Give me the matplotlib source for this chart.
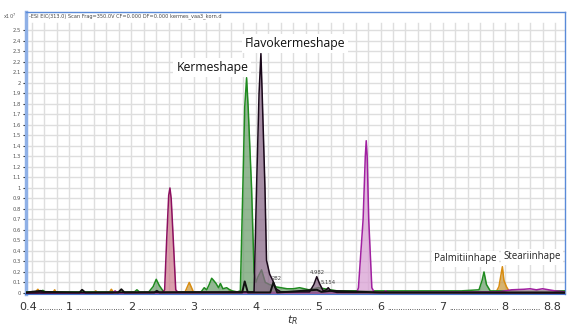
import matplotlib
matplotlib.use("Agg")
import matplotlib.pyplot as plt
import numpy as np

# ---------------- data ----------------
x_ticks = [0.4, 1, 2, 3, 4, 5, 6, 7, 8, 8.8]
x_tick_labels = ["0.4", "1", "2", "3", "4", "5", "6", "7", "8", "8.8"]
y_ticks = [round(0.1 * i, 1) for i in range(26)]

orange_t = [0.31, 0.45, 0.50, 0.55, 0.74, 0.77, 0.80, 1.40, 1.43, 1.46, 1.64, 1.68, 1.72,
            2.86, 2.93, 3.00, 3.55, 3.58, 3.62, 3.75, 3.77, 3.80, 7.85, 7.90, 7.955, 7.98,
            8.02, 8.06, 8.96]
orange_y = [0.0, 0.0, 0.035, 0.0, 0.0, 0.03, 0.0, 0.0, 0.02, 0.0, 0.0, 0.035, 0.0,
            0.005, 0.10, 0.005, 0.005, 0.03, 0.005, 0.005, 0.025, 0.005, 0.005, 0.06, 0.25, 0.12,
            0.06, 0.02, 0.01]

green_t = [0.31, 0.55, 0.58, 0.62, 1.90, 2.05, 2.09, 2.13, 2.28, 2.35, 2.40, 2.45, 2.52,
           3.05, 3.12, 3.17, 3.21, 3.25, 3.29, 3.32, 3.36, 3.40, 3.43, 3.47, 3.53, 3.58,
           3.62, 3.70, 3.75, 3.79, 3.82, 3.85, 3.875, 3.93, 3.97, 4.00, 4.03, 4.09, 4.15,
           4.22, 4.30, 4.40, 4.50, 4.60, 4.70, 4.85, 5.00, 5.30, 5.50, 7.30, 7.58, 7.63,
           7.66, 7.70, 7.76, 7.85, 8.30, 8.96]
green_y = [0.01, 0.01, 0.025, 0.01, 0.01, 0.01, 0.03, 0.01, 0.01, 0.06, 0.13, 0.07, 0.01,
           0.01, 0.01, 0.05, 0.03, 0.08, 0.14, 0.12, 0.09, 0.05, 0.09, 0.04, 0.05, 0.03,
           0.02, 0.01, 0.02, 1.00, 1.77, 2.05, 1.77, 1.00, 0.20, 0.10, 0.15, 0.22, 0.10,
           0.08, 0.06, 0.05, 0.04, 0.04, 0.05, 0.03, 0.05, 0.02, 0.02, 0.02, 0.03, 0.12,
           0.20, 0.08, 0.02, 0.02, 0.02, 0.02]

crimson_t = [0.31, 0.50, 0.53, 0.56, 2.50, 2.535, 2.567, 2.60, 2.62, 2.64, 2.674, 2.713,
             2.75, 8.96]
crimson_y = [0.0, 0.0, 0.015, 0.0, 0.005, 0.03, 0.50, 0.93, 1.00, 0.90, 0.50, 0.03,
             0.005, 0.0]

magenta_t = [0.31, 1.70, 1.74, 1.78, 5.30, 5.33, 5.36, 5.62, 5.645, 5.72, 5.755, 5.77,
             5.785, 5.81, 5.86, 5.90, 6.05, 6.08, 6.12, 7.90, 8.10, 8.30, 8.40, 8.50, 8.60,
             8.70, 8.80, 8.96]
magenta_y = [0.0, 0.0, 0.02, 0.0, 0.005, 0.02, 0.005, 0.005, 0.05, 0.70, 1.30, 1.45,
             1.30, 0.70, 0.05, 0.005, 0.005, 0.02, 0.005, 0.01, 0.03, 0.035, 0.04, 0.03, 0.04,
             0.03, 0.02, 0.01]

flavo_t = [0.31, 3.97, 4.01, 4.05, 4.08, 4.10, 4.145, 4.17, 4.22, 4.27, 4.32, 4.40, 4.86,
           4.93, 4.976, 5.02, 5.08, 5.13, 5.16, 5.20, 5.30, 8.96]
flavo_y = [0.0, 0.01, 1.00, 1.90, 2.28, 1.90, 1.00, 0.31, 0.18, 0.12, 0.04, 0.01, 0.01,
           0.08, 0.155, 0.09, 0.02, 0.03, 0.05, 0.02, 0.005, 0.0]

black_t = [0.31, 0.55, 0.60, 1.17, 1.21, 1.26, 1.79, 1.84, 1.89, 2.37, 2.41, 2.45, 3.78,
           3.82, 3.87, 4.23, 4.28, 4.34, 4.50, 4.98, 5.05, 5.20, 6.00, 8.96]
black_y = [0.005, 0.02, 0.01, 0.005, 0.03, 0.005, 0.005, 0.035, 0.005, 0.005, 0.02, 0.005,
           0.005, 0.11, 0.005, 0.005, 0.10, 0.005, 0.01, 0.03, 0.01, 0.02, 0.005, 0.005]

peak_names = ["Kermeshape", "Flavokermeshape", "Palmitiinhape", "Steariinhape"]
rt_labels = ["4.982", "5.154", "282"]
rt_label_t = [4.982, 5.154, 4.33]
rt_label_y = [0.175, 0.075, 0.11]

# ---------------- figure ----------------
W, H = 573, 326
fig = plt.figure(figsize=(W / 100, H / 100), dpi=100)
ax = fig.add_axes([26 / W, 1 - 294 / H, (565 - 26) / W, (294 - 12) / H])
ax.set_xlim(0.31, 8.96)
ax.set_ylim(-0.01, 2.676)

# grid (drawn manually, stops below the title strip)
for gx in np.arange(0.4, 8.95, 0.2):
    ax.plot([gx, gx], [-0.01, 2.57], color="#dedede", lw=1.0, zorder=0)
for gy in np.arange(0.1, 2.56, 0.1):
    ax.plot([0.31, 8.96], [gy, gy], color="#dedede", lw=1.0, zorder=0)

traces = [
    (orange_t, orange_y, "#d88c10", "#c99a40"),
    (green_t, green_y, "#1f8a1f", "#6fa06f"),
    (crimson_t, crimson_y, "#8c1060", "#cf8090"),
    (magenta_t, magenta_y, "#a020a0", "#d9a0d4"),
    (flavo_t, flavo_y, "#1a081a", "#8a6a88"),
]
for i, (t, y, ec, fc) in enumerate(traces):
    ax.fill_between(t, 0, y, color=fc, alpha=0.75, lw=0, zorder=2 + i)
    ax.plot(t, y, color=ec, lw=1.1, zorder=2 + i)
ax.plot(black_t, black_y, color="#111111", lw=1.4, zorder=9)

# spines
for s in ["top", "right"]:
    ax.spines[s].set_color("#5a8ad8")
    ax.spines[s].set_linewidth(1.0)
ax.spines["left"].set_color("#8fb0e6")
ax.spines["left"].set_linewidth(2.5)
ax.spines["bottom"].set_color("#4a78cc")
ax.spines["bottom"].set_linewidth(1.5)

# y ticks
ax.set_yticks(y_ticks)
ax.set_yticklabels([("%g" % v) for v in y_ticks], fontsize=3.8, color="#555555")
ax.tick_params(axis="y", length=2.5, width=0.8, pad=1, color="#222222")

# x ticks: custom text with dot fillers
ax.set_xticks([])
trans = ax.get_xaxis_transform()
label_y = -16 / 282
px_per_unit = (565 - 26) / (8.96 - 0.31)


def label_w(s):
    return sum(3.5 if c == "." else 7.0 for c in s)


label_shift = {"0.4": -0.06, "8.8": -0.04}
for v, lab in zip(x_ticks, x_tick_labels):
    ax.text(v + label_shift.get(lab, 0.0), label_y, lab, transform=trans, ha="center",
            va="baseline", fontsize=8, color="#333333", family="DejaVu Sans")
for a, b, la, lb in zip(x_ticks[:-1], x_ticks[1:], x_tick_labels[:-1], x_tick_labels[1:]):
    a2 = a + label_shift.get(la, 0.0)
    b2 = b + label_shift.get(lb, 0.0)
    left = a2 * px_per_unit + label_w(la) / 2 + 1.5
    right = b2 * px_per_unit - label_w(lb) / 2 - 1.5
    n = max(1, int((right - left) / 2.3))
    mid = (left + right) / 2 / px_per_unit
    ax.text(mid, label_y, "." * n, transform=trans, ha="center", va="baseline",
            fontsize=5, color="#222222", family="DejaVu Sans")

fig.text(293 / W, 1 - 320 / H, r"$t_R$", ha="center", va="center", fontsize=8, color="#333333")

# header texts
fig.text(3 / W, 1 - 16 / H, r"x10$^7$", ha="left", va="center", fontsize=3.6, color="#555555")
fig.text(29 / W, 1 - 16 / H,
         "-ESI EIC(313.0) Scan Frag=350.0V CF=0.000 DF=0.000 kermes_vaa3_korn.d",
         ha="left", va="center", fontsize=3.6, color="#444444")

# peak name annotations
box = dict(boxstyle="square,pad=0.25", fc="white", ec="none")
ax.text(3.30, 2.15, peak_names[0], ha="center", va="center", fontsize=8.8,
        family="Open Sans", color="#111111", bbox=box, zorder=20)
ax.text(4.63, 2.38, peak_names[1], ha="center", va="center", fontsize=8.8,
        family="Open Sans", color="#111111", bbox=box, zorder=20)
ax.text(7.36, 0.324, peak_names[2], ha="center", va="center", fontsize=6.9,
        family="Open Sans", color="#222222", bbox=box, zorder=20)
ax.text(8.43, 0.343, peak_names[3], ha="center", va="center", fontsize=6.9,
        family="Open Sans", color="#222222", bbox=box, zorder=20)

for lab, t, y in zip(rt_labels, rt_label_t, rt_label_y):
    ax.text(t, y, lab, ha="center", va="bottom", fontsize=3.8, color="#444444", zorder=20)

fig.savefig("out.png", dpi=100)
